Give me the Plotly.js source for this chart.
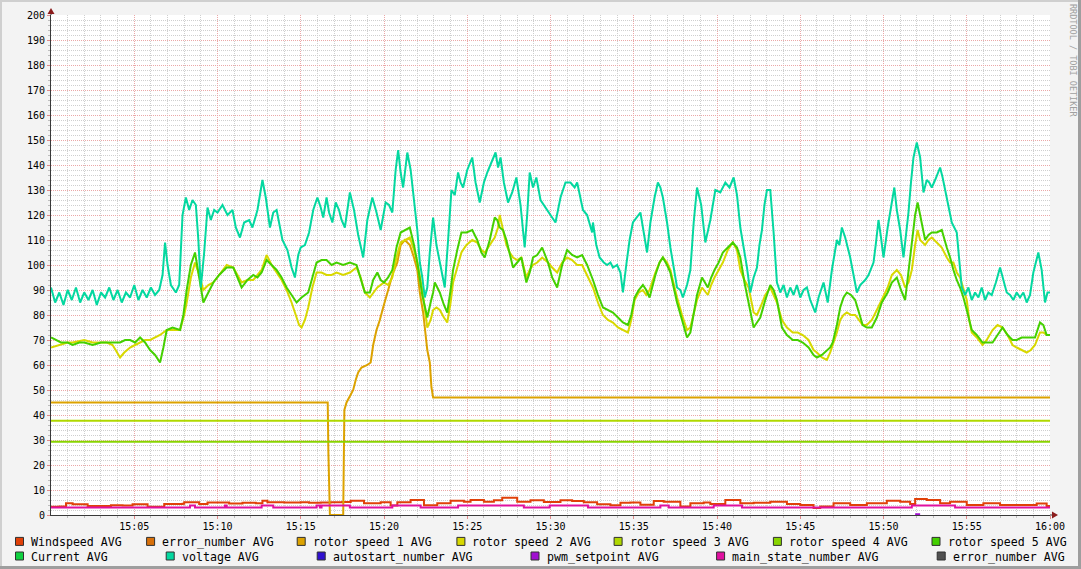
<!DOCTYPE html>
<html>
<head>
<meta charset="utf-8">
<script src="https://cdn.plot.ly/plotly-3.0.1.min.js"></script>
<style>
  html, body { margin: 0; padding: 0; background: #f3f3f3; }
  #wrap { position: relative; width: 1081px; height: 569px; overflow: hidden; }
  #chart { position: absolute; left: 0; top: 0; width: 1081px; height: 569px; }
  .b { position: absolute; pointer-events: none; }
</style>
</head>
<body>
<div id="wrap">
  <div id="chart"></div>
  <div class="b" style="left:0;top:0;width:1081px;height:2px;background:#cfcfcf"></div>
  <div class="b" style="left:0;top:0;width:2px;height:569px;background:#cfcfcf"></div>
  <div class="b" style="right:0;top:0;width:3px;height:569px;background:#9e9e9e"></div>
  <div class="b" style="left:0;bottom:0;width:1081px;height:3px;background:#9e9e9e"></div>
</div>
<script>
// ---------- DATA (minutes after 15:00, values) ----------
const seriesNames = ["Windspeed AVG", "error_number AVG", "rotor speed 1 AVG", "rotor speed 2 AVG",
  "rotor speed 3 AVG", "rotor speed 4 AVG", "rotor speed 5 AVG", "Current AVG", "voltage AVG",
  "autostart_number AVG", "pwm_setpoint AVG", "main_state_number AVG", "error_number AVG"];

const windT = [0,0.5,0.9,1.3,1.9,2.2,3.3,3.6,4.3,4.9,5.6,5.8,6.6,6.8,7.9,8.0,8.7,8.9,9.3,9.4,10.5,10.7,11.5,12.3,12.7,13.0,14.0,15.0,15.5,16.2,16.8,17.5,18.0,18.8,19.8,20.4,20.8,21.6,22.4,23.2,24.0,24.8,25.2,26.0,26.6,27.1,28.0,28.8,29.6,30.6,31.3,32.0,32.8,33.6,34.2,34.8,35.4,36.2,36.8,37.8,38.4,39.2,39.6,40.5,41.4,42.2,43.2,44.2,45.0,45.8,46.2,47.0,48.0,49.0,50.2,51.0,51.6,51.9,52.6,53.4,54.0,55.0,56.0,57.0,58.0,58.8,59.2,59.8,60];
const windV = [3.3,3.4,4.7,4.3,4.3,3.6,3.6,3.9,3.8,4.3,4.3,3.3,3.3,4.4,4.5,5.1,5.1,4.4,4.4,5.0,5.0,4.6,4.9,4.7,5.7,5.1,5.0,5.1,4.9,5.0,5.1,5.2,5.7,4.7,5.1,3.8,5.1,6.0,3.9,4.7,5.7,5.3,6.0,5.3,5.9,6.9,5.3,5.9,5.2,5.9,5.6,5.1,4.3,3.9,4.9,5.0,4.1,5.6,5.3,3.4,4.7,5.0,4.4,6.0,4.7,4.9,5.3,4.4,4.0,2.8,3.4,4.7,4.0,4.7,5.7,5.3,4.4,6.4,6.0,4.7,5.3,4.0,4.7,4.0,4.0,4.0,4.6,3.6,3.6];

const rotor1T = [0,16.62,16.66,16.75,17.55,17.58,17.62,17.75,17.9,18.15,18.3,18.45,18.65,19.0,19.2,19.35,19.55,19.75,19.95,20.15,20.35,20.55,20.8,21.0,21.25,21.55,21.8,22.0,22.15,22.35,22.5,22.6,22.75,22.85,22.95,60];
const rotor1V = [45,45,25,0,0,30,42,45,47,50,54,57,59,60,61,68,74,78,83,88,93,97,101,108,110,108,103,98,89,81,72,66,61,51,47,47];

const rotor2T = [0,0.5,1.0,1.3,2.0,2.5,3.0,3.35,3.7,3.9,4.15,4.4,4.75,5.05,5.35,5.65,5.95,6.3,6.55,6.95,7.3,7.75,8.0,8.15,8.4,8.65,8.9,9.15,9.45,9.75,10.1,10.55,10.95,11.2,11.45,11.8,12.15,12.4,12.65,12.95,13.25,13.55,13.85,14.15,14.45,14.75,14.9,15.05,15.25,15.45,15.7,15.95,16.25,16.55,16.85,17.15,17.55,17.95,18.35,18.6,18.85,19.15,19.35,19.6,20.0,20.25,20.5,20.75,21.0,21.3,21.55,21.8,22.0,22.3,22.6,22.8,22.95,23.15,23.35,23.6,23.8,24.0,24.15,24.4,24.65,24.95,25.3,25.6,25.85,26.05,26.35,26.65,26.85,26.95,27.15,27.35,27.55,27.75,28.0,28.25,28.55,28.75,28.95,29.2,29.5,29.85,30.1,30.4,30.7,31.0,31.3,31.6,31.9,32.2,32.55,32.85,33.15,33.45,33.75,34.05,34.35,34.65,34.85,35.05,35.3,35.55,35.75,35.95,36.3,36.55,36.75,37.0,37.2,37.4,37.6,37.9,38.2,38.4,38.55,38.8,39.1,39.45,39.65,39.85,40.1,40.35,40.65,40.95,41.2,41.4,41.65,41.9,42.2,42.4,42.6,42.9,43.2,43.4,43.6,43.9,44.2,44.55,44.85,45.15,45.5,45.8,46.0,46.3,46.6,46.8,46.95,47.2,47.4,47.6,47.8,48.05,48.3,48.55,48.75,49.0,49.3,49.6,49.9,50.25,50.5,50.8,51.05,51.3,51.5,51.7,51.9,52.05,52.2,52.5,52.7,52.9,53.2,53.5,53.8,54.0,54.2,54.4,54.6,54.8,55.0,55.15,55.3,55.6,55.95,56.2,56.55,56.85,57.15,57.45,57.75,58.0,58.3,58.6,58.85,59.1,59.4,59.6,59.8,60];
const rotor2V = [67,68,69,69,70,69,69,69,68,66,63,65,67,68,69,70,70,71,72,74,74,74,80,85,95,101,96,90,92,93,96,100,99,96,93,94,94,96,98,104,100,97,94,90,85,79,76,75,78,83,91,97,97,96,96,97,96,97,99,95,89,87,89,91,93,92,95,103,109,110,111,106,101,90,75,78,82,83,82,79,77,85,93,99,105,108,110,109,106,105,108,111,115,120,114,108,105,103,102,103,95,98,100,101,103,101,99,97,101,103,102,100,100,96,91,85,80,78,77,75,74,73,78,86,89,90,88,90,97,101,103,101,98,92,87,80,74,75,79,86,91,88,92,95,98,101,106,109,106,98,94,91,81,80,83,88,91,88,85,78,75,73,73,72,70,66,65,63,62,65,68,73,78,80,81,80,80,78,76,76,78,82,86,91,96,98,96,91,93,98,108,114,110,108,110,111,109,107,103,101,101,97,95,90,86,78,73,71,68,70,74,76,75,72,68,67,66,65,66,68,73,73,72,72];

const rotor3T = [0, 60];
const rotor3V = [37.7, 37.7];
const rotor4T = [0, 60];
const rotor4V = [29.3, 29.3];

const rotor5T = [0,0.3,0.6,1.0,1.3,1.7,2.0,2.5,3.0,3.35,3.7,4.15,4.45,4.75,5.05,5.35,5.65,5.95,6.25,6.55,6.75,6.95,7.3,7.75,7.95,8.15,8.4,8.65,8.9,9.15,9.45,9.75,10.1,10.55,10.95,11.2,11.45,11.8,12.15,12.4,12.65,12.95,13.25,13.55,13.85,14.15,14.45,14.75,15.05,15.25,15.45,15.7,15.95,16.25,16.55,16.85,17.15,17.55,17.95,18.35,18.6,18.85,19.15,19.35,19.6,19.8,20.0,20.25,20.5,20.75,21.0,21.3,21.55,21.8,22.0,22.3,22.6,22.8,22.95,23.05,23.35,23.6,23.8,24.0,24.15,24.4,24.65,24.95,25.3,25.6,25.85,26.05,26.35,26.65,26.8,26.95,27.15,27.35,27.55,27.75,28.0,28.25,28.55,28.75,28.95,29.2,29.5,29.85,30.1,30.4,30.7,31.0,31.3,31.6,31.9,32.2,32.55,32.85,33.15,33.45,33.75,34.05,34.35,34.65,34.85,35.05,35.3,35.55,35.75,35.95,36.3,36.55,36.75,37.0,37.2,37.4,37.6,37.9,38.2,38.4,38.55,38.8,39.1,39.45,39.65,39.85,40.1,40.35,40.65,40.95,41.2,41.4,41.65,41.9,42.2,42.4,42.6,42.9,43.2,43.4,43.6,43.9,44.2,44.55,44.85,45.15,45.5,45.8,46.0,46.3,46.6,46.8,46.95,47.2,47.4,47.6,47.8,48.05,48.3,48.55,48.75,49.0,49.3,49.6,49.9,50.25,50.5,50.8,51.05,51.3,51.5,51.7,51.9,52.05,52.2,52.5,52.7,52.9,53.2,53.5,53.8,54.0,54.2,54.4,54.6,54.8,55.0,55.15,55.3,55.6,55.95,56.2,56.55,56.85,57.15,57.45,57.75,58.0,58.3,58.6,58.85,59.1,59.4,59.6,59.8,60];
const rotor5V = [71,70,69,69,68,69,69,68,69,69,69,69,70,70,69,71,69,66,64,61,67,74,75,74,80,90,100,105,95,85,89,93,96,99,99,95,91,94,96,95,97,102,100,98,95,91,88,85,87,88,89,95,101,102,102,100,101,100,101,100,94,89,89,94,97,94,93,95,98,107,113,114,115,108,101,88,79,85,89,93,89,84,81,90,98,106,113,113,114,110,105,103,110,119,118,115,114,110,104,99,101,103,93,97,103,104,107,101,95,91,100,106,104,103,104,100,94,88,83,82,81,79,77,76,80,87,90,92,90,87,96,101,103,100,97,91,85,78,71,73,79,88,95,91,95,98,101,105,107,109,107,103,93,85,75,77,79,86,92,90,86,75,72,70,70,69,67,64,63,64,66,67,69,76,83,87,89,88,86,80,76,75,75,79,85,89,93,95,90,86,98,109,120,125,120,110,112,113,113,114,107,103,98,94,91,87,82,78,74,72,69,69,69,72,75,72,70,70,71,71,71,71,77,76,72,72];

const voltT = [0,0.25,0.5,0.75,1.0,1.25,1.5,1.75,2.0,2.25,2.5,2.75,3.0,3.25,3.5,3.75,4.0,4.25,4.5,4.75,5.0,5.25,5.5,5.75,6.0,6.25,6.5,6.7,6.85,7.0,7.2,7.5,7.7,7.9,8.1,8.3,8.5,8.7,8.85,9.0,9.2,9.4,9.6,9.8,10.0,10.3,10.6,10.9,11.1,11.35,11.6,11.9,12.1,12.4,12.7,12.9,13.15,13.35,13.55,13.75,13.9,14.2,14.45,14.65,14.85,15.0,15.25,15.5,15.75,16.0,16.2,16.35,16.55,16.7,16.9,17.1,17.3,17.45,17.65,17.95,18.2,18.45,18.75,19.0,19.3,19.55,19.8,20.1,20.3,20.5,20.7,20.85,21.0,21.15,21.4,21.6,21.8,22.0,22.15,22.3,22.45,22.6,22.75,22.95,23.15,23.35,23.5,23.65,23.85,24.05,24.25,24.45,24.6,24.75,25.0,25.3,25.5,25.75,26.0,26.2,26.45,26.7,26.85,27.0,27.2,27.45,27.7,27.95,28.2,28.45,28.6,28.75,28.95,29.15,29.4,29.6,29.8,30.0,30.3,30.6,30.9,31.2,31.45,31.6,31.8,31.95,32.2,32.5,32.55,32.75,32.95,33.2,33.4,33.6,33.75,34.0,34.2,34.35,34.55,34.75,34.95,35.2,35.4,35.6,35.8,36.0,36.25,36.45,36.6,36.75,37.0,37.2,37.4,37.6,37.8,37.95,38.2,38.4,38.6,38.8,39.05,39.3,39.6,39.9,40.2,40.5,40.75,41.0,41.2,41.4,41.6,41.8,42.0,42.2,42.4,42.55,42.7,42.85,43.0,43.2,43.4,43.6,43.8,44.0,44.2,44.4,44.6,44.8,45.0,45.2,45.4,45.6,45.9,46.1,46.4,46.65,46.9,47.2,47.35,47.5,47.7,48.0,48.2,48.4,48.6,48.9,49.1,49.4,49.55,49.7,49.85,50.0,50.25,50.5,50.65,50.8,51.0,51.2,51.35,51.5,51.65,51.8,52.0,52.2,52.4,52.6,52.75,52.9,53.1,53.4,53.55,53.7,53.9,54.1,54.4,54.55,54.7,54.9,55.1,55.3,55.5,55.7,55.9,56.1,56.3,56.5,56.75,57.0,57.2,57.4,57.6,57.8,58.0,58.2,58.4,58.6,58.8,59.0,59.3,59.5,59.7,59.85,60];
const voltV = [91,85,89,84,90,86,91,85,89,86,90,84,89,87,91,86,90,85,89,87,92,86,90,87,91,88,90,96,109,100,92,89,92,120,127,122,126,124,110,91,105,123,118,122,121,124,120,122,115,111,117,118,115,122,134,127,115,121,122,115,110,106,99,95,104,107,108,113,122,127,123,119,127,121,117,125,122,118,115,129,122,112,103,118,127,121,114,125,124,121,138,146,137,131,145,138,125,114,101,95,87,91,105,119,108,101,95,91,110,130,128,137,133,131,138,143,133,125,133,137,141,145,139,143,133,125,129,135,124,107,120,137,131,135,126,124,122,120,117,127,133,133,131,133,126,122,120,113,117,108,103,101,100,101,99,100,97,89,100,110,117,119,121,113,105,117,127,133,131,127,117,107,98,91,90,87,92,98,117,131,124,109,118,130,129,133,131,135,128,115,107,99,89,95,99,108,114,124,130,130,113,93,89,92,87,91,88,92,87,90,91,86,81,87,93,85,98,110,108,115,111,103,96,89,92,94,96,101,109,118,111,103,115,126,131,122,114,103,112,121,133,143,149,143,129,134,133,131,134,139,135,130,123,117,113,103,91,88,91,86,89,87,91,86,89,88,93,99,94,89,88,86,89,87,89,85,88,97,105,98,85,89,89];

const pwmT = [51.9, 52.2];
const pwmV = [0.3, 0.3];

const stateT = [0,8.35,8.65,10.45,10.55,12.65,13.35,15.95,16.15,16.25,17.95,20.5,22.2,24.45,28.4,29.95,32.25,36.6,37.1,39.8,41.5,51.7,54.3,60];
const stateV = [3,3.8,3,3.8,3,3.8,3,3.8,3,3.8,3,3.8,3,3.8,3,3.8,3,3.8,3,3.8,3,3.8,3,3];

const emptyT = [];
const emptyV = [];

const tickLabels = ["15:05","15:10","15:15","15:20","15:25","15:30","15:35","15:40","15:45","15:50","15:55","16:00"];

// ---------- STYLE ----------
const colors = ["#e04008","#d8700a","#dca200","#d8d800","#b0d800","#88d400","#44d000","#10d040","#04d8a0","#3010d0","#a010d0","#e010a0","#505050"];

const base = Date.UTC(2024, 0, 1, 15, 0, 0);
function toDate(m) { return new Date(base + m * 60000).toISOString().replace('T', ' ').slice(0, 23); }
function dates(arr) { return arr.map(toDate); }

const seriesData = [
  [windT, windV, 'hv'], [emptyT, emptyV, 'linear'], [rotor1T, rotor1V, 'linear'], [rotor2T, rotor2V, 'linear'],
  [rotor3T, rotor3V, 'linear'], [rotor4T, rotor4V, 'linear'], [rotor5T, rotor5V, 'linear'], [emptyT, emptyV, 'linear'],
  [voltT, voltV, 'linear'], [emptyT, emptyV, 'linear'], [pwmT, pwmV, 'linear'], [stateT, stateV, 'hv'], [emptyT, emptyV, 'linear']
];

const traces = seriesData.map((s, i) => ({
  type: 'scatter', mode: 'lines', name: seriesNames[i],
  x: dates(s[0]), y: s[1],
  line: { color: colors[i], width: 2, shape: s[2] },
  hoverinfo: 'skip', showlegend: false
}));

// plot geometry in pixels
const L = 51, R = 1050, T = 15, B = 515;
const px = v => (v - L) / (R - L);
const py = v => (B - v) / (B - T);

const majorVals = tickLabels.map((_, i) => toDate(5 * (i + 1)));
const minorVals = [];
for (let m = 1; m <= 60; m++) if (m % 5 !== 0) minorVals.push(toDate(m));

const mono = 'DejaVu Sans Mono, monospace';

const shapes = [
  { type: 'line', xref: 'paper', yref: 'paper', x0: px(1050), x1: px(1053), y0: 0, y1: 0, line: { color: '#3a3a3a', width: 1 } },
  { type: 'path', xref: 'paper', yref: 'paper', path: `M ${px(1052)} ${py(511.5)} L ${px(1058)} ${py(515)} L ${px(1052)} ${py(518.5)} Z`, fillcolor: '#8b1c1c', line: { width: 0 } },
  { type: 'line', xref: 'paper', yref: 'paper', x0: 0, x1: 0, y0: 1, y1: py(12), line: { color: '#3a3a3a', width: 1 } },
  { type: 'path', xref: 'paper', yref: 'paper', path: `M ${px(47.5)} ${py(14)} L ${px(51)} ${py(8)} L ${px(54.5)} ${py(14)} Z`, fillcolor: '#8b1c1c', line: { width: 0 } }
];

// legend squares and texts (built from names / colors)
const legX = [[15.5, 146.6, 297.2, 456.9, 614.1, 773.4, 932], [15.5, 166.2, 317.2, 531, 716.6, 937.2]];
const legY = [541.4, 556];
const legOrder = [[0, 1, 2, 3, 4, 5, 6], [7, 8, 9, 10, 11, 12]];
const annotations = [];
legOrder.forEach((row, r) => {
  row.forEach((idx, k) => {
    const x0 = legX[r][k];
    shapes.push({ type: 'rect', xref: 'paper', yref: 'paper', x0: px(x0), x1: px(x0 + 8), y0: py(legY[r] - 4), y1: py(legY[r] + 4),
      fillcolor: colors[idx], line: { color: '#303030', width: 1 } });
    annotations.push({ xref: 'paper', yref: 'paper', x: px(x0 + 13.5), y: py(legY[r] + 0.5), xanchor: 'left', yanchor: 'middle',
      text: seriesNames[idx], showarrow: false, font: { family: mono, size: 11.6, color: '#000' } });
  });
});
annotations.push({ xref: 'paper', yref: 'paper', x: px(1073), y: py(60), xanchor: 'center', yanchor: 'middle',
  text: 'RRDTOOL / TOBI OETIKER', textangle: 90, showarrow: false, font: { family: mono, size: 8.5, color: '#a0a0a0' } });

const layout = {
  width: 1081, height: 569,
  margin: { l: L, r: 1081 - R, t: T, b: 569 - B, pad: 0 },
  paper_bgcolor: '#f3f3f3', plot_bgcolor: '#ffffff',
  showlegend: false,
  font: { family: mono, size: 10, color: '#000' },
  xaxis: {
    type: 'date', range: [toDate(0), toDate(60)],
    tickmode: 'array', tickvals: majorVals, ticktext: tickLabels,
    showgrid: true, gridcolor: '#eba8a8', griddash: '1px,1px', gridwidth: 1,
    ticks: 'outside', ticklen: 3, tickcolor: '#e08a8a', ticklabelstandoff: -1,
    minor: { tickmode: 'array', tickvals: minorVals, showgrid: true, gridcolor: '#cfcfcf', griddash: '1px,1px', ticks: 'outside', ticklen: 2, tickcolor: '#bdbdbd' },
    showline: true, linecolor: '#3a3a3a', linewidth: 1, zeroline: false,
    tickfont: { family: mono, size: 10, color: '#000' }, fixedrange: true
  },
  yaxis: {
    range: [0, 200], tickmode: 'linear', tick0: 0, dtick: 10,
    showgrid: true, gridcolor: '#eba8a8', griddash: '1px,1px', gridwidth: 1,
    ticks: 'outside', ticklen: 3, tickcolor: '#e08a8a',
    minor: { tickmode: 'linear', tick0: 0, dtick: 2, showgrid: true, gridcolor: '#cfcfcf', griddash: '1px,1px', ticks: 'outside', ticklen: 2, tickcolor: '#bdbdbd' },
    showline: true, linecolor: '#3a3a3a', linewidth: 1, zeroline: false,
    tickfont: { family: mono, size: 10, color: '#000' }, fixedrange: true
  },
  shapes: shapes,
  annotations: annotations
};

Plotly.newPlot('chart', traces, layout, { displayModeBar: false, staticPlot: true });
</script>
</body>
</html>
